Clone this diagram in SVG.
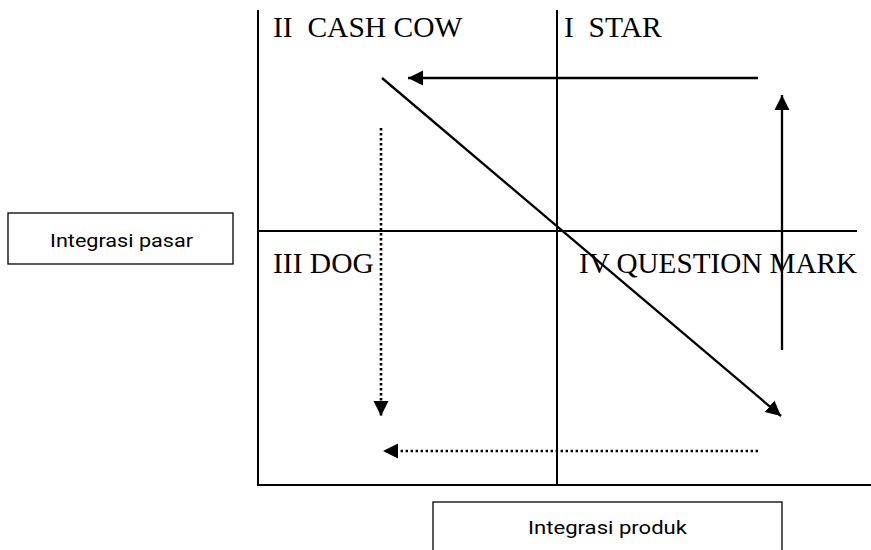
<svg xmlns="http://www.w3.org/2000/svg" width="871" height="550" viewBox="0 0 871 550">
<style>
.ax{stroke:#000;stroke-width:2;fill:none}
.ar{stroke:#000;stroke-width:2.3;fill:none}
.dot{stroke:#000;stroke-width:2.6;fill:none;stroke-dasharray:2.4 2.6}
.q{font-family:"Liberation Serif","Times New Roman",serif;font-size:29.5px;fill:#000}
.lb{font-family:Roboto,"Open Sans",sans-serif;font-size:18.5px;font-weight:400;fill:#000}
.bx{fill:#fff;stroke:#000;stroke-width:1.3}
</style>
<defs>
<marker id="ah" markerUnits="userSpaceOnUse" markerWidth="18" markerHeight="16" refX="15" refY="8" orient="auto">
<path d="M0,0.5 L15,8 L0,15.5 Z" fill="#000"/>
</marker>
</defs>
<g id="axes">
<line class="ax" x1="258" y1="10" x2="258" y2="485"/>
<line class="ax" x1="257" y1="485" x2="871" y2="485"/>
<line class="ax" x1="557" y1="10" x2="557" y2="485"/>
<line class="ax" x1="258" y1="231" x2="857" y2="231"/>
</g>
<g id="q2"><text class="q" x="273" y="37" xml:space="preserve">II  CASH COW</text></g>
<g id="q1"><text class="q" x="564" y="37" xml:space="preserve">I  STAR</text></g>
<g id="q3"><text class="q" x="273" y="273">III DOG</text></g>
<g id="q4"><text class="q" x="579" y="273" textLength="278" lengthAdjust="spacingAndGlyphs">IV QUESTION MARK</text></g>
<g id="pasar">
<rect class="bx" x="8" y="213" width="225" height="51"/>
<text class="lb" x="50" y="247" textLength="143" lengthAdjust="spacingAndGlyphs">Integrasi pasar</text>
</g>
<g id="produk">
<rect class="bx" x="433" y="502" width="349" height="60"/>
<text class="lb" x="528" y="534" textLength="159" lengthAdjust="spacingAndGlyphs">Integrasi produk</text>
</g>
<g id="connectors">
<line class="ar" x1="758" y1="78" x2="408" y2="78" marker-end="url(#ah)"/>
<line class="ar" x1="782" y1="350" x2="782" y2="95" marker-end="url(#ah)"/>
<line class="ar" x1="382" y1="78" x2="781" y2="416" marker-end="url(#ah)"/>
<line class="dot" x1="381" y1="128" x2="381" y2="416" marker-end="url(#ah)"/>
<line class="dot" x1="758" y1="451" x2="383" y2="451" marker-end="url(#ah)"/>
</g>
</svg>
